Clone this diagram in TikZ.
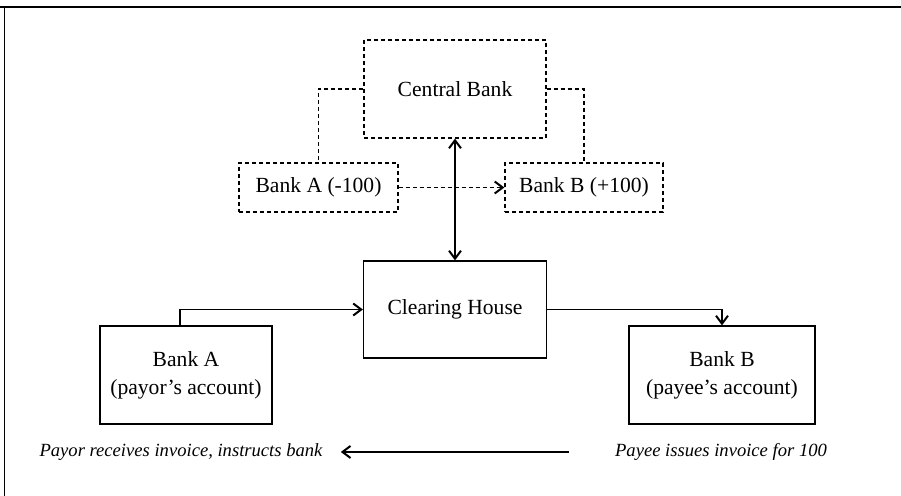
\documentclass[tikz,border=0pt]{standalone}
\usepackage{fontspec}
\setmainfont{Liberation Serif}
\usetikzlibrary{arrows.meta, positioning, calc}

\tikzset{
  solidbox/.style={draw, line width=0.6pt, align=center, inner sep=2pt, font=\fontsize{10.8}{14}\selectfont},
  dashbox/.style={solidbox, dash pattern=on 2pt off 1.5pt},
  note/.style={inner sep=1pt, font=\fontsize{9.3}{11}\selectfont\itshape},
  barb/.tip={Straight Barb[length=4pt, width=6pt, line width=1pt]},
  arr/.style={line width=0.6pt, -barb},
  arrboth/.style={line width=0.6pt, barb-barb},
}

\begin{document}
\begin{tikzpicture}[x=0.5pt, y=-0.5pt]
  \useasboundingbox (0,0) rectangle (901,496);
  \draw[line width=1pt] (0,7) -- (901,7);
  \draw[line width=0.5pt] (4,7) -- (4,496);

  \node[dashbox, minimum width=91pt, minimum height=49pt] (central) at (455,89) {Central Bank};
  \node[dashbox, minimum width=79.5pt, minimum height=24.5pt] (bankaminus) at (318.5,187.5) {Bank A (-100)};
  \node[dashbox, minimum width=79pt, minimum height=24.5pt] (bankbplus) at (584,187.5) {Bank B (+100)};

  \node[solidbox, minimum width=91.5pt, minimum height=48.5pt] (clearing) at (455,309.5) {Clearing House};
  \node[solidbox, minimum width=86pt, minimum height=49pt] (banka) at (186,375) {Bank A\\(payor's account)};
  \node[solidbox, minimum width=93pt, minimum height=49pt] (bankb) at (722,375) {Bank B\\(payee's account)};

  \node[note] (payor) at (181,452) {Payor receives invoice, instructs bank};
  \node[note] (payee) at (721,452) {Payee issues invoice for 100};

  \draw[line width=0.6pt, dash pattern=on 2pt off 1.5pt] (central.west) -| (bankaminus.north);
  \draw[line width=0.6pt, dash pattern=on 2pt off 1.5pt] (central.east) -| (bankbplus.north);
  \draw[arr, dash pattern=on 2pt off 1.5pt] (bankaminus.east) -- (bankbplus.west);
  \draw[arrboth] (central.south) -- (clearing.north);

  \draw[arr] ([xshift=-3pt]banka.north) |- (clearing.west);
  \draw[arr] (clearing.east) -| (bankb.north);
  \draw[arr, shorten <=22pt, shorten >=8pt] (payee.west) -- (payor.east);
\end{tikzpicture}
\end{document}
